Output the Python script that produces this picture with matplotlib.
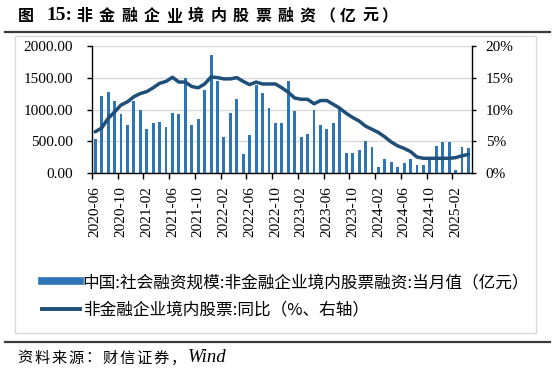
import matplotlib
matplotlib.use("Agg")
import matplotlib.pyplot as plt
import numpy as np
from matplotlib.lines import Line2D
from matplotlib.patches import Rectangle

# data, monthly 2020-06 .. 2025-04
months = [f"{y}-{m:02d}" for y in range(2020, 2026) for m in range(1, 13)]
months = months[months.index("2020-06"):months.index("2025-04") + 1]

equity_financing = [530, 1206, 1274, 1133, 925, 764, 1133, 998, 692, 785,
                    806, 718, 952, 925, 1492, 764, 858, 1300, 1856, 1440,
                    572, 952, 1160, 296, 598, 1388, 1253, 1019, 785, 785,
                    1440, 972, 572, 619, 993, 764, 692, 785, 1004, 317,
                    317, 364, 504, 411, 104, 224, 177, 104, 156, 224,
                    130, 130, 234, 432, 484, 484, 57, 411, 390]

yoy_growth = [6.5, 7.1, 8.6, 9.6, 10.7, 11.2, 12.0, 12.5, 12.8, 13.4,
              14.1, 14.4, 15.05, 14.3, 14.3, 13.6, 13.4, 14.0, 15.1, 15.0,
              14.8, 14.8, 15.0, 14.4, 13.9, 14.3, 14.0, 14.0, 14.0, 13.4,
              12.7, 11.8, 11.6, 11.6, 10.9, 11.4, 11.4, 10.8, 10.2, 9.4,
              8.75, 8.2, 7.4, 6.9, 6.4, 5.7, 4.9, 4.3, 3.9, 3.4,
              2.55, 2.35, 2.35, 2.35, 2.35, 2.35, 2.45, 2.75, 2.97]

left_ticks = [0, 500, 1000, 1500, 2000]
right_ticks = [0, 5, 10, 15, 20]

bar_label = "中国:社会融资规模:非金融企业境内股票融资:当月值（亿元）"
line_label = "非金融企业境内股票:同比（%、右轴）"
title_head = "图"
title_num = "15:"
title_body = "非金融企业境内股票融资"
title_unit = "（亿元）"
source_cn = "资料来源：财信证券，"
source_en = "Wind"

bar_color = "#2e75b6"
line_color = "#1f4e79"
serif = "Liberation Serif"
cjk = ["Noto Sans CJK SC", "DejaVu Sans"]

W, H = 555, 373
fig = plt.figure(figsize=(W / 100, H / 100), dpi=100)


def fx(px):
    return px / W


def fy(py):
    return 1 - py / H


def spaced(text, x0, y, pitch, **kw):
    # draw characters one by one with wide letter spacing
    for i, ch in enumerate(text):
        fig.text(fx(x0 + i * pitch), fy(y), ch, va="center", ha="left", **kw)


# frame around chart + rules
fig.patches.append(Rectangle((fx(15), fy(333)), 521 / W, 297 / H,
                             transform=fig.transFigure, fill=False,
                             edgecolor="#d9d9d9", linewidth=1.0))
fig.add_artist(Line2D([fx(5), fx(550)], [fy(342)] * 2,
                      transform=fig.transFigure, color="#3a3a3a", lw=1.6))
fig.add_artist(Line2D([fx(5), fx(550)], [fy(31.5)] * 2,
                      transform=fig.transFigure, color="#3a3a3a", lw=1.6))

# title
title_kw = dict(family=cjk, fontweight="bold", fontsize=11.5)
fig.text(fx(17.5), fy(16), title_head, va="center", ha="left", **title_kw)
fig.text(fx(46), fy(16), title_num, family=serif, fontweight="bold",
         fontsize=14, va="center", ha="left")
spaced(title_body, 76.5, 16, 22.3, **title_kw)
fig.text(fx(319), fy(16), title_unit[0], va="center", ha="left", **title_kw)
spaced(title_unit[1:3], 340, 16, 22, **title_kw)
fig.text(fx(381), fy(16), title_unit[3], va="center", ha="left", **title_kw)

# source
spaced(source_cn, 17, 358, 17.1, family=cjk, fontsize=11)
fig.text(fx(188), fy(358), source_en, family=serif, fontstyle="italic",
         fontsize=13.5, va="center", ha="left")

ax = fig.add_axes([fx(92), fy(173.3), (471.7 - 92) / W, 127.6 / H])
x = np.arange(len(months))
ax.bar(x, equity_financing, width=0.45, color=bar_color, zorder=2)
ax.set_xlim(-0.5, len(months) - 0.5)
ax.set_ylim(left_ticks[0], left_ticks[-1])
ax.set_yticks(left_ticks)
ax.set_yticklabels([f"{v:.2f}" for v in left_ticks])
ax.grid(axis="y", color="#d9d9d9", lw=1.0, zorder=0)
ax.set_axisbelow(True)

lab_idx = x[::4]
ax.set_xticks(lab_idx)
ax.set_xticklabels([months[i] for i in lab_idx], rotation=90)
ax.set_xticks(lab_idx - 0.5, minor=True)
ax.tick_params(axis="x", which="major", length=0, pad=9)
ax.tick_params(axis="x", which="minor", length=4, width=1, direction="out")
ax.tick_params(axis="y", length=3.5, width=1, pad=10)
for lbl in ax.get_xticklabels() + ax.get_yticklabels():
    lbl.set_family(serif)
    lbl.set_fontsize(11)

ax2 = ax.twinx()
ax2.plot(x, yoy_growth, color=line_color, lw=2.5, solid_capstyle="round",
         solid_joinstyle="round", zorder=3)
ax2.set_ylim(right_ticks[0], right_ticks[-1])
ax2.set_yticks(right_ticks)
ax2.set_yticklabels([f"{v}%" for v in right_ticks])
ax2.tick_params(axis="y", length=3, width=1, pad=7)
for lbl in ax2.get_yticklabels():
    lbl.set_family(serif)
    lbl.set_fontsize(11)

for a in (ax, ax2):
    a.spines["top"].set_visible(False)
    for s in ("left", "right", "bottom"):
        a.spines[s].set_linewidth(1.0)
ax.spines["right"].set_visible(False)
ax2.spines["left"].set_visible(False)
ax2.spines["bottom"].set_visible(False)

handles = [Line2D([], [], color=bar_color, lw=5.5),
           Line2D([], [], color=line_color, lw=2.8)]
fig.legend(handles, [bar_label, line_label], loc="upper left",
           bbox_to_anchor=(fx(42), fy(274)), frameon=False,
           prop={"family": cjk, "size": 12}, handlelength=2.3,
           handletextpad=0.15, borderpad=0, borderaxespad=0,
           labelspacing=0.62)

fig.savefig("out.png", dpi=100)
